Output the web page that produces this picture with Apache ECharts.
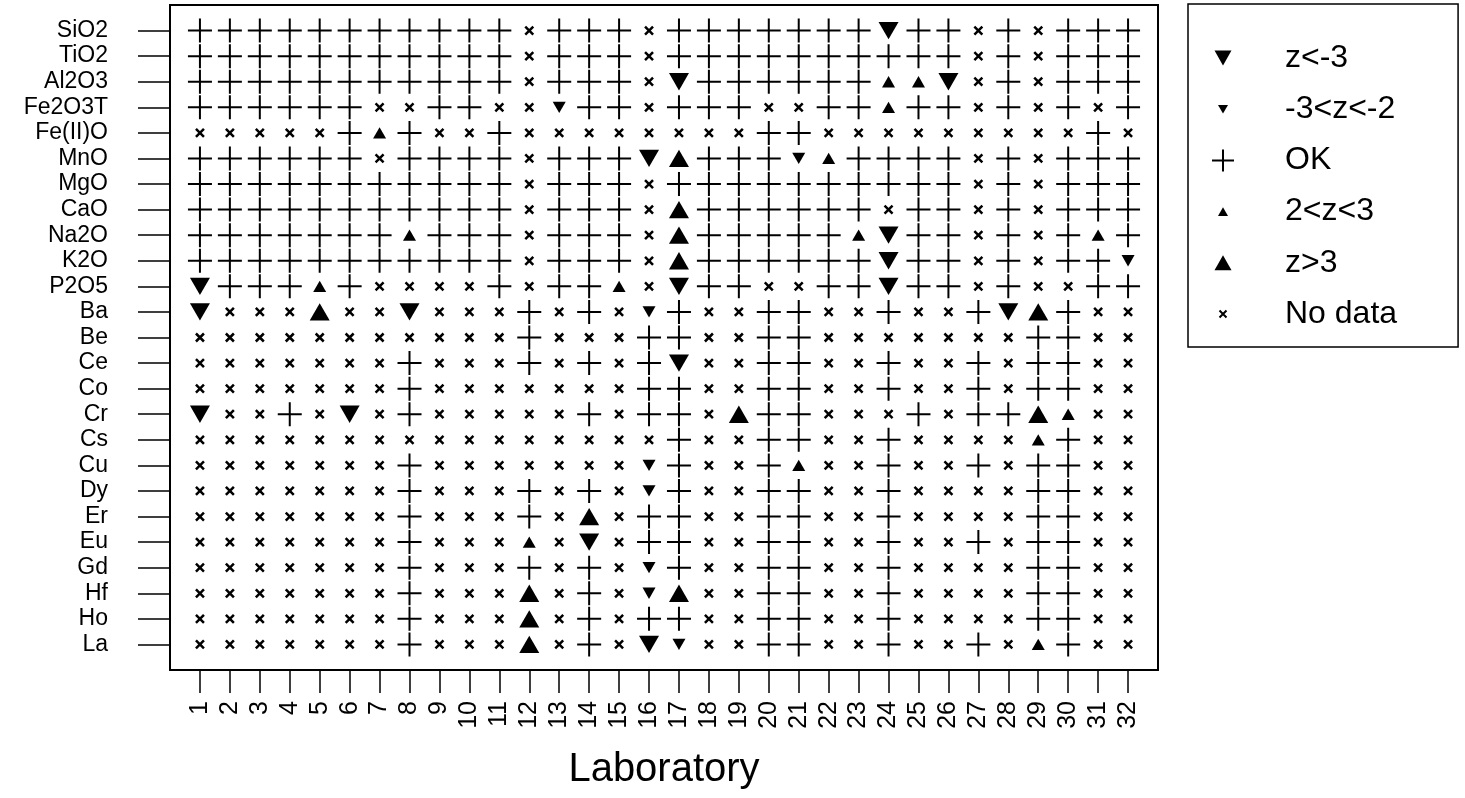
<!DOCTYPE html>
<html><head><meta charset="utf-8">
<script src="https://cdn.jsdelivr.net/npm/echarts@6/dist/echarts.min.js"></script>
<style>html,body{margin:0;padding:0;background:#fff}#c{width:1465px;height:798px}</style>
</head><body><div id="c"></div>
<script>
// Row categories (top to bottom)
const elements = ['SiO2','TiO2','Al2O3','Fe2O3T','Fe(II)O','MnO','MgO','CaO','Na2O','K2O','P2O5',
  'Ba','Be','Ce','Co','Cr','Cs','Cu','Dy','Er','Eu','Gd','Hf','Ho','La'];
// Column categories
const labs = ['1','2','3','4','5','6','7','8','9','10','11','12','13','14','15','16',
  '17','18','19','20','21','22','23','24','25','26','27','28','29','30','31','32'];
// Status per element (row) and laboratory (character position)
// D: z<-3, d: -3<z<-2, +: OK, u: 2<z<3, U: z>3, x: No data
const status = [
  '+++++++++++x+++x+++++++D++x+x+++', // SiO2
  '+++++++++++x+++x++++++++++x+x+++', // TiO2
  '+++++++++++x+++xD++++++uuDx+x+++', // Al2O3
  '++++++xx++xxd++x+++xx++u++x+x+x+', // Fe2O3T
  'xxxxx+u+xx+xxxxxxxx++xxxxxxxxx+x', // Fe(II)O
  '++++++x++++x+++DU+++du++++x+x+++', // MnO
  '+++++++++++x+++x++++++++++x+x+++', // MgO
  '+++++++++++x+++xU++++++x++x+x+++', // CaO
  '+++++++u+++x+++xU+++++uD++x+x+u+', // Na2O
  '+++++++++++x+++xU++++++D++x+x++d', // K2O
  'D+++u+xxxx+x++uxD++xx++D++x+xx++', // P2O5
  'DxxxUxxDxxx+x+xd+xx++xx+xx+DU+xx', // Ba
  'xxxxxxxxxxx+xxx++xx++xxxxxxx++xx', // Be
  'xxxxxxx+xxx+x+x+Dxx++xx+xx+x++xx', // Ce
  'xxxxxxx+xxxxxxx++xx++xx+xx+x++xx', // Co
  'Dxx+xDx+xxxxx+x++xU++xxx+x++Uuxx', // Cr
  'xxxxxxxxxxxxxxxx+xx++xx+xxxxu+xx', // Cs
  'xxxxxxx+xxxxxxxd+xx+uxx+xx+x++xx', // Cu
  'xxxxxxx+xxx+x+xd+xx++xx+xxxx++xx', // Dy
  'xxxxxxx+xxx+xUx++xx++xx+xxxx++xx', // Er
  'xxxxxxx+xxxuxDx++xx++xx+xx+x++xx', // Eu
  'xxxxxxx+xxx+x+xd+xx++xx+xxxx++xx', // Gd
  'xxxxxxx+xxxUx+xdUxx++xx+xxxx++xx', // Hf
  'xxxxxxx+xxxUx+x++xx++xx+xxxx++xx', // Ho
  'xxxxxxx+xxxUx+xDdxx++xx+xx+xu+xx'  // La
];
const classCodes = ['D','d','+','u','U','x'];
const classNames = ['z<-3','-3<z<-2','OK','2<z<3','z>3','No data'];

const FONT = 'Liberation Sans, Arial, sans-serif';
const symbolDefs = {
  'D': {symbol:'path://M0,0 L20,0 L10,17.3 Z', size:[20,17.3], bw:0},
  'd': {symbol:'path://M0,0 L13,0 L6.5,11.3 Z', size:[13,11.3], bw:0},
  '+': {symbol:'path://M0,12 L24,12 M12,0 L12,24', size:[24,24], bw:2},
  'u': {symbol:'path://M0,11.3 L13,11.3 L6.5,0 Z', size:[13,11.3], bw:0},
  'U': {symbol:'path://M0,17.3 L20,17.3 L10,0 Z', size:[20,17.3], bw:0},
  'x': {symbol:'path://M0,0 L8,8 M0,8 L8,0', size:[8,8], bw:2.5}
};
const legendIcons = {
  'D': 'path://M0,0 M24,24 M3.5,4.5 L20.5,4.5 L12,19.5 Z',
  'd': 'path://M0,0 M24,24 M7,7.7 L17,7.7 L12,16.3 Z',
  '+': 'path://M0,0 M24,24 M1,12 L23,12 M12,1 L12,23',
  'u': 'path://M0,0 M24,24 M7,16.3 L17,16.3 L12,7.7 Z',
  'U': 'path://M0,0 M24,24 M3.5,19.5 L20.5,19.5 L12,4.5 Z',
  'x': 'path://M0,0 M24,24 M8.5,8.5 L15.5,15.5 M8.5,15.5 L15.5,8.5'
};

const xCats = [''].concat(labs, ['']);
const yCats = [''].concat(elements, ['']);

const series = classCodes.map((code, ci) => {
  const data = [];
  status.forEach((row, r) => {
    for (let c = 0; c < row.length; c++) {
      if (row[c] === code) data.push([c + 1, r + 1]);
    }
  });
  const s = symbolDefs[code];
  return {
    type: 'scatter', name: classNames[ci], data: data,
    symbol: s.symbol, symbolSize: s.size, silent: true,
    itemStyle: {color: '#000', borderColor: '#000', borderWidth: s.bw, opacity: 1},
    emphasis: {disabled: true}, animation: false
  };
});

const chart = echarts.init(document.getElementById('c'));
chart.setOption({
  animation: false,
  backgroundColor: '#fff',
  grid: {left: 170, right: 307, top: 5, bottom: 128, show: true,
         borderColor: '#000', borderWidth: 2, backgroundColor: 'transparent'},
  xAxis: {
    type: 'category', data: xCats, boundaryGap: false,
    axisLine: {show: false},
    axisTick: {show: true, length: 23, lineStyle: {color: '#000', width: 1.5},
               interval: (i) => i > 0 && i < xCats.length - 1},
    axisLabel: {interval: 0, rotate: 90, margin: 31, fontSize: 25, color: '#000', fontFamily: FONT},
    splitLine: {show: false},
    name: 'Laboratory', nameLocation: 'middle', nameGap: 80,
    nameTextStyle: {fontSize: 40, color: '#000', fontFamily: FONT}
  },
  yAxis: {
    type: 'category', data: yCats, boundaryGap: false, inverse: true,
    axisLine: {show: false},
    axisTick: {show: true, length: 32, lineStyle: {color: '#000', width: 1.5},
               interval: (i) => i > 0 && i < yCats.length - 1},
    axisLabel: {interval: 0, margin: 62, fontSize: 23, color: '#000', fontFamily: FONT},
    splitLine: {show: false}
  },
  legend: {
    orient: 'vertical', left: 1188, top: 4,
    padding: [38, 61, 17, 22],
    itemWidth: 40, itemHeight: 24, itemGap: 19.2,
    borderColor: '#000', borderWidth: 1.5,
    selectedMode: false,
    textStyle: {fontSize: 32, color: '#000', fontFamily: FONT, lineHeight: 32, padding: [0, 0, 0, 37]},
    data: classCodes.map((code, ci) => ({name: classNames[ci], icon: legendIcons[code]}))
  },
  series: series
});
</script>
</body></html>
